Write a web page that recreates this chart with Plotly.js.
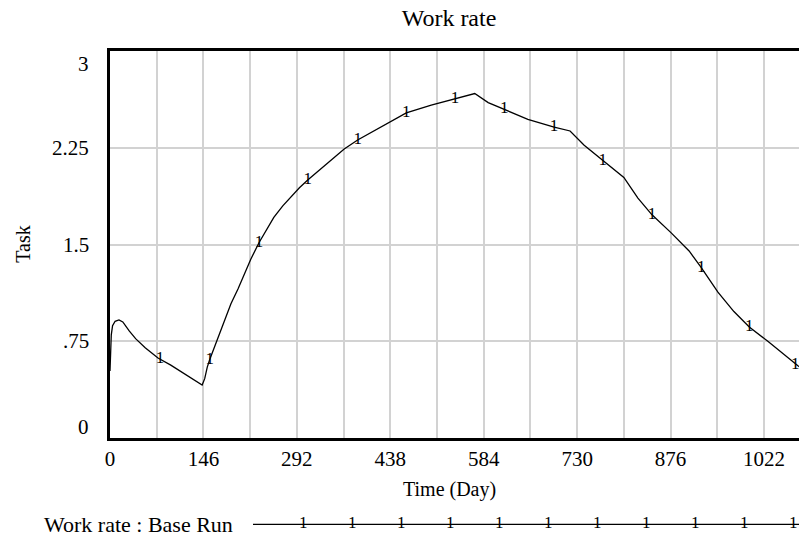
<!DOCTYPE html>
<html>
<head>
<meta charset="utf-8">
<script src="https://cdn.plot.ly/plotly-3.0.1.min.js"></script>
<style>html,body{margin:0;padding:0;background:#fff;}#chart{width:799px;height:540px;}</style>
</head>
<body>
<div id="chart"></div>
<script>
// Curve: Work rate (Task) over Time (Day)
const days = [0, 1, 2, 4, 8, 14, 20, 30, 40, 55, 75, 95, 111, 125, 144, 148, 152, 156, 166, 178, 189, 200, 220, 233, 243, 256, 270, 283, 296, 309, 322, 334, 350, 366, 387, 405, 419, 440, 463, 502, 539, 570, 591, 616, 653, 694, 719, 741, 770, 803, 825, 847, 877, 905, 924, 950, 975, 999, 1028, 1075, 1095];
const workRate = [0.52, 0.62, 0.80, 0.87, 0.905, 0.915, 0.90, 0.83, 0.77, 0.70, 0.62, 0.565, 0.515, 0.47, 0.41, 0.46, 0.55, 0.61, 0.745, 0.90, 1.04, 1.155, 1.386, 1.516, 1.60, 1.71, 1.80, 1.87, 1.94, 2.0, 2.055, 2.10, 2.175, 2.24, 2.31, 2.36, 2.40, 2.46, 2.52, 2.58, 2.63, 2.67, 2.60, 2.55, 2.47, 2.41, 2.38, 2.27, 2.15, 2.02, 1.86, 1.73, 1.59, 1.45, 1.32, 1.13, 0.98, 0.86, 0.75, 0.56, 0.50];
// Run-number markers ("1") placed along the curve
const markerDays = [78, 156, 233, 309, 387, 463, 539, 616, 694, 770, 847, 924, 999, 1071];
const markerValues = [0.615, 0.61, 1.516, 2.0, 2.31, 2.52, 2.63, 2.55, 2.41, 2.15, 1.73, 1.32, 0.86, 0.565];
// Axis ticks
const xGridVals = [0, 73, 146, 219, 292, 365, 438, 511, 584, 657, 730, 803, 876, 949, 1022, 1095];
const xTickText = ["0", "", "146", "", "292", "", "438", "", "584", "", "730", "", "876", "", "1022", ""];
const yTickVals = [0, 0.75, 1.5, 2.25, 3];
const yTickText = ["0", ".75", "1.5", "2.25", "3"];
const legendLabel = "Work rate : Base Run";

const FONT = "Liberation Serif, Times New Roman, serif";
const plotL = 110, plotR = 799, plotT = 51, plotB = 438.5;
const W = 799, H = 540;
const pxToPaperX = px => (px - plotL) / (plotR - plotL);
const pxToPaperY = py => (plotB - py) / (plotB - plotT);

const traces = [
  {x: days, y: workRate, type: "scatter", mode: "lines", line: {color: "#000", width: 1.3}, hoverinfo: "skip", showlegend: false},
  {x: markerDays, y: markerValues, type: "scatter", mode: "text", text: markerDays.map(() => "1"),
   textposition: "middle center", textfont: {family: FONT, size: 17, color: "#000"}, showlegend: false, hoverinfo: "skip"}
];

const annotations = [];
// y tick labels (Vensim style: end labels pulled inside the frame)
yTickVals.forEach((v, i) => {
  let shift = 0;
  if (i === 0) shift = 11;
  if (i === yTickVals.length - 1) shift = -13;
  annotations.push({xref: "paper", yref: "y", x: 0, y: v, xanchor: "right", yanchor: "middle",
    xshift: -19, yshift: shift, text: yTickText[i], showarrow: false, font: {family: FONT, size: 21, color: "#000"}});
});
// axis titles
annotations.push({xref: "paper", yref: "paper", x: pxToPaperX(23), y: pxToPaperY(245), text: "Task", textangle: -90,
  showarrow: false, xanchor: "center", yanchor: "middle", font: {family: FONT, size: 20, color: "#000"}});
annotations.push({xref: "paper", yref: "paper", x: pxToPaperX(449), y: pxToPaperY(490), text: "Time (Day)",
  showarrow: false, xanchor: "center", yanchor: "middle", font: {family: FONT, size: 20, color: "#000"}});
// legend label
annotations.push({xref: "paper", yref: "paper", x: pxToPaperX(42), y: pxToPaperY(525), text: legendLabel,
  showarrow: false, xanchor: "left", yanchor: "middle", font: {family: FONT, size: 22, color: "#000"}});
// legend run markers
for (let px = 303; px <= 795; px += 49) {
  annotations.push({xref: "paper", yref: "paper", x: pxToPaperX(px), y: pxToPaperY(523), text: "1",
    showarrow: false, xanchor: "center", yanchor: "middle", font: {family: FONT, size: 17, color: "#000"}});
}

const shapes = [
  {type: "line", xref: "paper", yref: "paper", x0: pxToPaperX(253), x1: pxToPaperX(799),
   y0: pxToPaperY(525), y1: pxToPaperY(525), line: {color: "#000", width: 1.3}}
];

const layout = {
  width: W, height: H,
  margin: {l: plotL, r: W - plotR, t: plotT, b: H - plotB, pad: 0},
  paper_bgcolor: "#fff", plot_bgcolor: "#fff",
  font: {family: FONT, color: "#000"},
  title: {text: "Work rate", font: {family: FONT, size: 24, color: "#000"},
    x: 449 / W, xanchor: "center", xref: "container", y: 1 - 18 / H, yanchor: "middle", yref: "container"},
  xaxis: {range: [0, 1095 * (plotR - plotL) / 700.7], tickvals: xGridVals, ticktext: xTickText,
    showgrid: true, gridcolor: "#d2d2d2", gridwidth: 2, zeroline: false,
    showline: true, linecolor: "#000", linewidth: 3, mirror: true, ticks: "",
    tickfont: {family: FONT, size: 21, color: "#000"}, fixedrange: true},
  yaxis: {range: [0, 3], tickvals: yTickVals, showticklabels: false,
    showgrid: true, gridcolor: "#d2d2d2", gridwidth: 2, zeroline: false,
    showline: true, linecolor: "#000", linewidth: 3, mirror: false, ticks: "", fixedrange: true},
  annotations: annotations,
  shapes: shapes,
  showlegend: false
};

Plotly.newPlot("chart", traces, layout, {displayModeBar: false, staticPlot: true});
</script>
</body>
</html>
